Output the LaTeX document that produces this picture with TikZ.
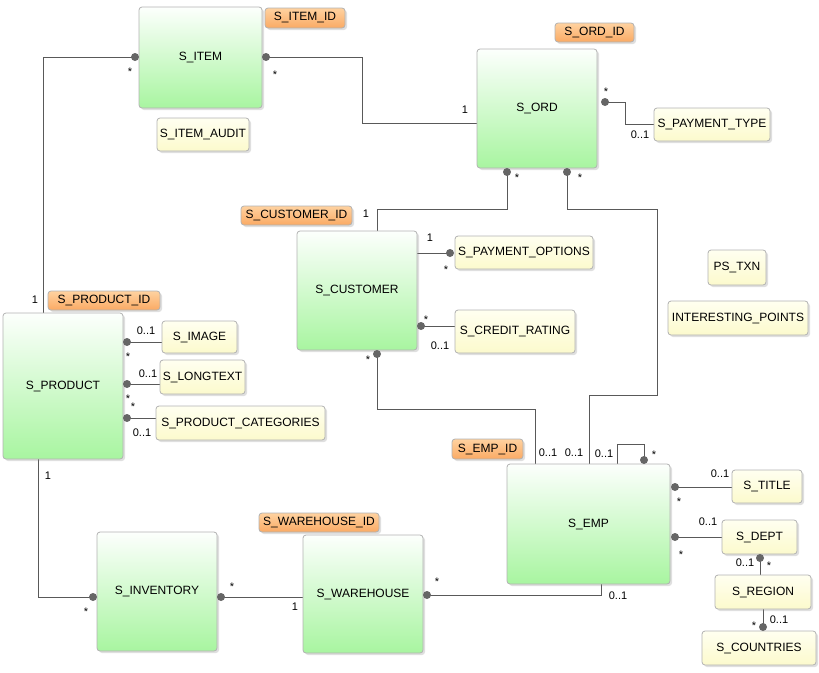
\documentclass[tikz,border=0pt]{standalone}
\usepackage{fontspec}
\setmainfont{Liberation Sans}
\usetikzlibrary{shadows}
\begin{document}
\begin{tikzpicture}[x=1pt,y=-1pt,
  font=\fontsize{12}{14}\selectfont,
  box/.style={draw=black!30,rounded corners=3pt,line width=0.8pt,drop shadow={shadow xshift=2pt,shadow yshift=-2pt,opacity=0.25}},
  ent/.style={box,top color=green!5!white!95!green!10,bottom color={rgb,255:red,168;green,245;blue,160}},
  tab/.style={box,top color={rgb,255:red,255;green,255;blue,240},bottom color={rgb,255:red,252;green,250;blue,205}},
  pk/.style={box,top color={rgb,255:red,255;green,210;blue,160},bottom color={rgb,255:red,250;green,170;blue,100}},
  ln/.style={draw=black!65,line width=0.8pt},
  dot/.style={fill=black!60,circle,inner sep=0pt,minimum size=8pt},
  lb/.style={font=\fontsize{11}{12}\selectfont,inner sep=0pt}]
\useasboundingbox (0,0) rectangle (819,672);
\newcommand{\bx}[6]{\path[#1] (#2,#3) rectangle (#4,#5); \node at ({(#2+#4)/2},{(#3+#5)/2}) {#6};}
% connectors first
\coordinate (a1) at (135,57); \draw[ln] (a1) -- (43,57) -- (43,313);
\coordinate (a2) at (266,57); \draw[ln] (a2) -- (362,57) -- (362,123) -- (477,123);
\coordinate (a3) at (605,102); \draw[ln] (a3) -- (625,102) -- (625,124) -- (654,124);
\coordinate (a4) at (507,172); \draw[ln] (a4) -- (507,209) -- (377,209) -- (377,231);
\coordinate (a5) at (567,172); \draw[ln] (a5) -- (567,209) -- (657,209) -- (657,395) -- (589,395) -- (589,464);
\coordinate (a6) at (450,253); \draw[ln] (417,253) -- (a6);
\coordinate (a7) at (421,326); \draw[ln] (a7) -- (455,326);
\coordinate (a8) at (377,354); \draw[ln] (a8) -- (377,409) -- (535,409) -- (535,464);
\coordinate (a9) at (127,342); \draw[ln] (a9) -- (162,342);
\coordinate (a10) at (127,384); \draw[ln] (a10) -- (160,384);
\coordinate (a11) at (127,418); \draw[ln] (a11) -- (156,418);
\coordinate (a12) at (93,597); \draw[ln] (38,459) -- (38,597) -- (a12);
\coordinate (a13) at (221,597); \draw[ln] (a13) -- (303,597);
\coordinate (a14) at (427,595); \draw[ln] (a14) -- (601,595) -- (601,584);
\coordinate (a15) at (644,460); \draw[ln] (617,464) -- (617,444) -- (644,444) -- (a15);
\coordinate (a16) at (675,487); \draw[ln] (a16) -- (732,487);
\coordinate (a17) at (675,537); \draw[ln] (a17) -- (722,537);
\coordinate (a18) at (760,558); \draw[ln] (a18) -- (760,575);
\coordinate (a19) at (763,627); \draw[ln] (763,609) -- (a19);
% boxes
\bx{ent}{139}{7}{262}{108}{S\_ITEM}
\bx{pk}{265}{8}{345}{28}{S\_ITEM\_ID}
\bx{tab}{157}{118}{249}{151}{S\_ITEM\_AUDIT}
\bx{ent}{477}{49}{597}{168}{S\_ORD}
\bx{pk}{555}{23}{634}{42}{S\_ORD\_ID}
\bx{tab}{654}{108}{770}{141}{S\_PAYMENT\_TYPE}
\bx{pk}{241}{206}{352}{225}{S\_CUSTOMER\_ID}
\bx{ent}{297}{231}{417}{350}{S\_CUSTOMER}
\bx{tab}{455}{236}{593}{269}{S\_PAYMENT\_OPTIONS}
\bx{tab}{455}{310}{575}{353}{S\_CREDIT\_RATING}
\bx{tab}{708}{250}{766}{285}{PS\_TXN}
\bx{tab}{668}{301}{808}{335}{INTERESTING\_POINTS}
\bx{pk}{48}{291}{160}{310}{S\_PRODUCT\_ID}
\bx{ent}{3}{313}{123}{459}{S\_PRODUCT}
\bx{tab}{162}{321}{237}{353}{S\_IMAGE}
\bx{tab}{160}{360}{245}{394}{S\_LONGTEXT}
\bx{tab}{156}{406}{325}{440}{S\_PRODUCT\_CATEGORIES}
\bx{pk}{452}{439}{523}{459}{S\_EMP\_ID}
\bx{ent}{507}{464}{670}{584}{S\_EMP}
\bx{tab}{732}{470}{802}{503}{S\_TITLE}
\bx{tab}{722}{520}{797}{554}{S\_DEPT}
\bx{tab}{715}{575}{811}{609}{S\_REGION}
\bx{tab}{702}{631}{816}{665}{S\_COUNTRIES}
\bx{pk}{259}{513}{379}{532}{S\_WAREHOUSE\_ID}
\bx{ent}{303}{535}{423}{653}{S\_WAREHOUSE}
\bx{ent}{97}{532}{217}{651}{S\_INVENTORY}
% dots
\foreach \c in {a1,a2,a3,a4,a5,a6,a7,a8,a9,a10,a11,a12,a13,a14,a15,a16,a17,a18,a19} \node[dot] at (\c) {};
% labels
\foreach \x/\y/\t in {130/72/*,275/75/*,465/110/1,606/92/*,640/135/0..1,517/178/*,366/214/1,580/178/*,574/453/0..1,
 430/238/1,446/270/*,426/320/*,440/346/0..1,368/360/*,548/453/0..1,35/300/1,146/331/0..1,128/357/*,148/374/0..1,128/399/*,
 133/407/*,142/433/0..1,48/476/1,86/612/*,232/587/*,295/607/1,437/582/*,618/596/0..1,604/454/0..1,654/455/*,
 720/474/0..1,679/502/*,708/522/0..1,681/555/*,745/563/0..1,769/566/*,754/626/*,779/620/0..1}
 \node[lb] at (\x,\y) {\t};
\end{tikzpicture}
\end{document}
